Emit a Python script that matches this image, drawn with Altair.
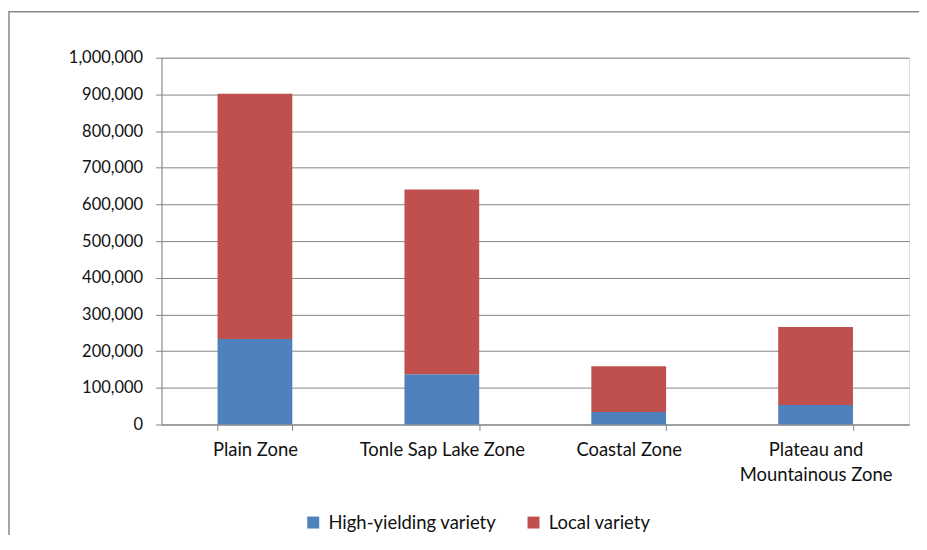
import altair as alt
import pandas as pd

zones = ["Plain Zone", "Tonle Sap Lake Zone", "Coastal Zone", "Plateau and Mountainous Zone"]
high_yielding = [233000, 137000, 34000, 53000]
local_variety = [669000, 504000, 125000, 213000]
series = ["High-yielding variety", "Local variety"]
colors = ["#4F81BD", "#C0504D"]
y_ticks = [0, 100000, 200000, 300000, 400000, 500000, 600000, 700000, 800000, 900000, 1000000]

rows = []
for z, h, l in zip(zones, high_yielding, local_variety):
    rows.append({"zone": z, "series": series[0], "value": h, "ord": 0})
    rows.append({"zone": z, "series": series[1], "value": l, "ord": 1})
df = pd.DataFrame(rows)

FONT = "Lato"

bars = alt.Chart(df).mark_bar(stroke=None).encode(
    x=alt.X("zone:N", sort=zones, title=None,
            scale=alt.Scale(paddingInner=0.6, paddingOuter=0.3),
            axis=alt.Axis(labelAngle=0, tickBand="extent", domainColor="#868686",
                          tickColor="#868686", tickSize=6, labelPadding=10,
                          labelFontSize=18.5, labelFont=FONT, labelColor="#111",
                          labelExpr="datum.label == 'Plateau and Mountainous Zone' ? ['Plateau and', 'Mountainous Zone'] : datum.label",
                          labelLineHeight=25, grid=False)),
    y=alt.Y("value:Q", stack="zero", title=None,
            scale=alt.Scale(domain=[0, 1000000], nice=False),
            axis=alt.Axis(values=y_ticks, format=",.0f", gridColor="#868686", gridWidth=1,
                          domainColor="#868686", tickColor="#868686", tickSize=6,
                          labelPadding=13, labelFontSize=16.5, labelFont=FONT, labelColor="#111")),
    color=alt.Color("series:N", sort=series, scale=alt.Scale(domain=series, range=colors),
                    legend=alt.Legend(title=None, orient="none", legendX=143, legendY=457,
                                      direction="horizontal", symbolType="square",
                                      symbolSize=144, symbolStrokeWidth=0,
                                      labelFont=FONT, labelFontSize=18.5, labelColor="#111",
                                      labelLimit=400, columnPadding=28, labelOffset=6)),
    order=alt.Order("ord:Q"),
)

border = alt.Chart(pd.DataFrame({"a": [0]})).mark_rect(fill=None, stroke="#888888", strokeWidth=1.5).encode(
    x=alt.value(-153), x2=alt.value(800), y=alt.value(-46), y2=alt.value(600)
)

chart = alt.layer(border, bars).properties(
    width=750, height=368,
    padding={"left": 154, "top": 49, "right": 10, "bottom": 110},
    autosize=alt.AutoSizeParams(type="none"),
).configure_view(stroke="#000000", strokeWidth=1.5).configure(background="white")

chart.save("out.html", embed_options={"renderer": "svg", "actions": False})
